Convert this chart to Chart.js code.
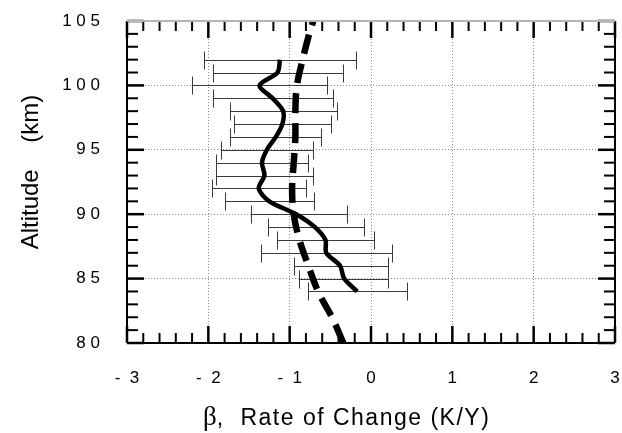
<!DOCTYPE html>
<html>
<head>
<meta charset="utf-8">
<script src="https://cdn.jsdelivr.net/npm/chart.js@4/dist/chart.umd.min.js"></script>
<style>
  html, body { margin: 0; padding: 0; background: #fff; }
</style>
</head>
<body>
<canvas id="betaChart" width="622" height="433"></canvas>
<script>
// measured profile: altitude (km) and beta (K/Y) with error bar ends
const altitudes = [102, 101, 100, 99, 98, 97, 96, 95, 94, 93, 92, 91, 90, 89, 88, 87, 86, 85, 84];
const betaMean  = [-1.12, -1.15, -1.37, -1.21, -1.08, -1.09, -1.17, -1.28, -1.34, -1.31, -1.38, -1.25, -0.92, -0.69, -0.56, -0.55, -0.38, -0.33, -0.17];
const betaLow   = [-2.05, -1.94, -2.20, -1.94, -1.73, -1.69, -1.73, -1.85, -1.90, -1.90, -1.95, -1.79, -1.48, -1.27, -1.16, -1.35, -0.95, -0.88, -0.77];
const betaHigh  = [-0.19, -0.35, -0.54, -0.47, -0.42, -0.49, -0.61, -0.71, -0.78, -0.71, -0.80, -0.70, -0.30, -0.09, 0.04, 0.26, 0.21, 0.21, 0.44];

// dashed profile
const modelAlt  = [80, 82, 84, 86, 88, 90, 92, 94, 96, 98, 100, 102, 104, 105];
const modelBeta = [-0.34, -0.48, -0.65, -0.77, -0.88, -0.95, -0.97, -0.95, -0.93, -0.93, -0.91, -0.84, -0.76, -0.71];

// tick labels
const xTickLabels = ['-  3', '-  2', '-  1', '0', '1', '2', '3'];
const yTickLabels = ['8 0', '8 5', '9 0', '9 5', '1 0 0', '1 0 5'];

const SANS = '"Liberation Sans", Arial, sans-serif';

// error bars, drawn under the lines
const errorBars = {
    id: 'errorBars',
    beforeDatasetsDraw(chart) {
        const { ctx, scales: { x, y } } = chart;
        ctx.save();
        ctx.strokeStyle = '#3a3a3a';
        ctx.lineWidth = 1;
        altitudes.forEach((alt, i) => {
            const py = Math.round(y.getPixelForValue(alt)) + 0.5;
            const x1 = Math.round(x.getPixelForValue(betaLow[i])) + 0.5;
            const x2 = Math.round(x.getPixelForValue(betaHigh[i])) + 0.5;
            ctx.beginPath();
            ctx.moveTo(x1, py); ctx.lineTo(x2, py);
            ctx.moveTo(x1, py - 9); ctx.lineTo(x1, py + 9);
            ctx.moveTo(x2, py - 9); ctx.lineTo(x2, py + 9);
            ctx.stroke();
        });
        ctx.restore();
    }
};

// box frame with inward ticks on all four sides
const frameTicks = {
    id: 'frameTicks',
    afterDraw(chart) {
        const { ctx, chartArea: a, scales: { x, y } } = chart;
        const seg = (x1, y1, x2, y2) => { ctx.beginPath(); ctx.moveTo(x1, y1); ctx.lineTo(x2, y2); ctx.stroke(); };
        ctx.save();
        ctx.strokeStyle = '#000';
        for (let k = 0; k <= 30; k++) {
            const px = x.getPixelForValue(-3 + k * 0.2);
            const major = k % 5 === 0;
            const len = major ? 17 : 10;
            ctx.lineWidth = major ? 2.5 : 2;
            seg(px, a.top, px, a.top + len);
            seg(px, a.bottom, px, a.bottom - len);
        }
        for (let v = 80; v <= 105; v++) {
            const py = y.getPixelForValue(v);
            const major = v % 5 === 0;
            const len = major ? 17 : 11;
            ctx.lineWidth = major ? 2.5 : 2;
            seg(a.left, py, a.left + len, py);
            seg(a.right, py, a.right - len, py);
        }
        ctx.lineWidth = 2;
        seg(a.left, a.top, a.left, a.bottom);
        seg(a.right, a.top, a.right, a.bottom);
        seg(a.left, a.bottom, a.right, a.bottom);
        ctx.strokeStyle = '#b5b5b5';
        seg(a.left, a.top, a.right, a.top);
        ctx.restore();
    }
};

// x axis title with a serif beta
const xTitle = {
    id: 'xTitle',
    afterDraw(chart) {
        const { ctx, chartArea: a } = chart;
        const sym = 'β';
        const rest = ',  Rate of Change (K/Y)';
        const start = (a.left + a.right) / 2 - 168;
        ctx.save();
        ctx.fillStyle = '#000';
        ctx.textBaseline = 'alphabetic';
        ctx.font = '27px "Liberation Serif", serif';
        const w1 = ctx.measureText(sym).width;
        ctx.fillText(sym, start, 425);
        ctx.font = '23px ' + SANS;
        ctx.letterSpacing = '1.5px';
        ctx.fillText(rest, start + w1, 425);
        ctx.restore();
    }
};

const ctx = document.getElementById('betaChart').getContext('2d');
new Chart(ctx, {
    type: 'scatter',
    data: {
        datasets: [{
            label: 'Measured',
            data: altitudes.map((alt, i) => ({ x: betaMean[i], y: alt })),
            showLine: true,
            borderColor: '#000',
            borderWidth: 4.5,
            pointRadius: 0,
            tension: 0.3,
            fill: false
        }, {
            label: 'Model',
            data: modelAlt.map((alt, i) => ({ x: modelBeta[i], y: alt })),
            showLine: true,
            borderColor: '#000',
            borderWidth: 6.5,
            borderDash: [20, 10],
            pointRadius: 0,
            tension: 0.4,
            fill: false
        }]
    },
    options: {
        responsive: false,
        animation: false,
        layout: { padding: { top: 21, right: 7, left: 0, bottom: 0 } },
        plugins: {
            legend: { display: false },
            tooltip: { enabled: false }
        },
        scales: {
            x: {
                type: 'linear',
                min: -3,
                max: 3,
                afterFit: s => { s.height = 90; s.paddingLeft = 0; s.paddingRight = 0; },
                grid: { color: '#8a8a8a', lineWidth: 1, drawTicks: false },
                border: { display: false, dash: [1, 2] },
                ticks: {
                    stepSize: 1,
                    padding: 25,
                    color: '#000',
                    maxRotation: 0,
                    font: { family: SANS, size: 17 },
                    callback: (v, i) => xTickLabels[i]
                }
            },
            y: {
                type: 'linear',
                min: 80,
                max: 105,
                afterFit: s => { s.width = 127; s.paddingTop = 0; s.paddingBottom = 0; },
                grid: { color: '#8a8a8a', lineWidth: 1, drawTicks: false },
                border: { display: false, dash: [1, 2] },
                ticks: {
                    stepSize: 5,
                    padding: 27,
                    color: '#000',
                    font: { family: SANS, size: 17 },
                    callback: (v, i) => yTickLabels[i]
                },
                title: {
                    display: true,
                    text: '   Altitude    (km)',
                    color: '#000',
                    font: { family: SANS, size: 24 },
                    padding: { top: 17, bottom: 0 }
                }
            }
        }
    },
    plugins: [errorBars, frameTicks, xTitle]
});
</script>
</body>
</html>
